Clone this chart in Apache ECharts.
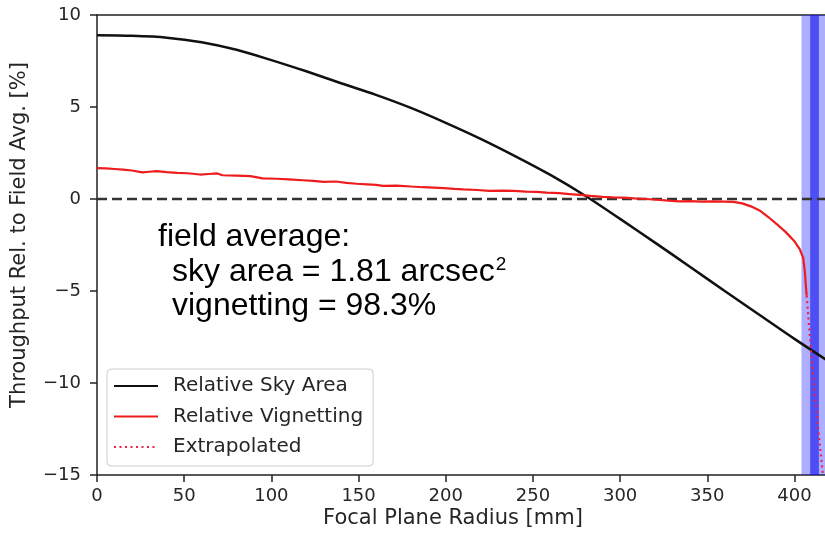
<!DOCTYPE html>
<html>
<head>
<meta charset="utf-8">
<script src="https://cdn.jsdelivr.net/npm/echarts@6/dist/echarts.min.js"></script>
<style>
  html, body { margin: 0; padding: 0; background: #fff; }
  #chart { width: 825px; height: 540px; }
</style>
</head>
<body>
<div id="chart"></div>
<script>
// Relative sky area vs focal plane radius [mm, %]
const skyX = [0, 20, 40, 60, 80, 100, 120, 140, 160, 180, 200, 220, 240, 260, 280, 300, 320, 340, 360, 380, 400, 420];
const skyY = [8.90, 8.87, 8.77, 8.52, 8.11, 7.55, 6.94, 6.29, 5.66, 4.95, 4.14, 3.27, 2.32, 1.31, 0.18, -1.08, -2.37, -3.68, -5.00, -6.30, -7.60, -8.85];

// Measured relative vignetting [mm, %]
const vignX = [0, 5, 10, 15, 20, 26, 30, 34, 40, 46, 52, 59, 64, 69, 72, 80, 88, 95, 103, 110, 118, 124, 130, 137, 143, 149, 155, 160, 164, 172, 180, 187, 193, 199, 205, 210, 218, 225, 232, 239, 246, 252, 258, 265, 271, 277, 283, 290, 296, 302, 308, 315, 321, 328, 334, 340, 347, 353, 360, 365, 370, 375, 380, 385, 390, 395, 400, 403, 405, 406, 406.5, 407];
const vignY = [1.68, 1.66, 1.63, 1.60, 1.55, 1.45, 1.48, 1.51, 1.46, 1.42, 1.40, 1.33, 1.36, 1.39, 1.29, 1.27, 1.24, 1.12, 1.10, 1.07, 1.02, 0.98, 0.93, 0.95, 0.88, 0.83, 0.80, 0.77, 0.71, 0.73, 0.68, 0.64, 0.62, 0.59, 0.55, 0.52, 0.49, 0.44, 0.46, 0.44, 0.40, 0.39, 0.35, 0.32, 0.27, 0.22, 0.17, 0.12, 0.09, 0.07, 0.03, 0.00, -0.04, -0.09, -0.13, -0.12, -0.14, -0.13, -0.14, -0.16, -0.24, -0.40, -0.62, -0.98, -1.38, -1.80, -2.30, -2.72, -3.20, -4.00, -4.70, -5.25];

// Extrapolated vignetting past the last measured radius
const extX = [407, 409.6, 412.8, 416.2, 418];
const extY = [-5.25, -8.4, -11.7, -14.9, -16.8];

// Field-average reference level
const refX = [0, 420];
const refY = [0, 0];

// Shaded radius bands [mm]
const bandOuter = [404, 420];
const bandInner = [409, 414];

// Axis ranges and ticks
const xRange = [0, 417.5];
const yRange = [-15, 10];
const xStep = 50;
const yStep = 5;

const zip = (xs, ys) => xs.map((x, i) => [x, ys[i]]);
const ink = '#262626';
const tickFont = 'DejaVu Sans';
const noteFont = '32px "Liberation Sans", Arial, sans-serif';

const chart = echarts.init(document.getElementById('chart'), null, { renderer: 'canvas' });

chart.setOption({
  animation: false,
  backgroundColor: '#fff',
  grid: { left: 97, top: 15, right: 0, bottom: 65, containLabel: false },
  xAxis: [
    {
      type: 'value', min: xRange[0], max: xRange[1], interval: xStep,
      axisLine: { show: true, onZero: false, lineStyle: { color: '#222', width: 1.5 } },
      axisTick: { show: true, length: 7, lineStyle: { color: '#222', width: 1.5 } },
      axisLabel: { showMaxLabel: false, color: ink, fontFamily: tickFont, fontSize: 18, margin: 12 },
      splitLine: { show: false }
    },
    {
      type: 'value', position: 'top', min: xRange[0], max: xRange[1],
      axisLine: { show: true, onZero: false, lineStyle: { color: '#222', width: 1.5 } },
      axisTick: { show: false }, axisLabel: { show: false }, splitLine: { show: false }
    }
  ],
  yAxis: {
    type: 'value', min: yRange[0], max: yRange[1], interval: yStep,
    axisLine: { show: true, onZero: false, lineStyle: { color: '#222', width: 1.5 } },
    axisTick: { show: true, length: 7, lineStyle: { color: '#222', width: 1.5 } },
    axisLabel: {
      color: ink, fontFamily: tickFont, fontSize: 18, margin: 16,
      formatter: v => (v < 0 ? '\u2212' + Math.abs(v) : String(v))
    },
    splitLine: { show: false }
  },
  legend: {
    orient: 'vertical', left: 107, top: 369,
    data: ['Relative Sky Area', 'Relative Vignetting', 'Extrapolated'],
    itemWidth: 44, itemHeight: 14, itemGap: 10.5,
    padding: [7, 10, 9, 6],
    backgroundColor: 'rgba(255,255,255,0.85)',
    borderColor: '#cccccc', borderWidth: 1, borderRadius: 4,
    itemStyle: { opacity: 0, borderWidth: 0 },
    textStyle: { color: ink, fontFamily: tickFont, fontSize: 20, lineHeight: 18, padding: [0, 0, 0, 10] }
  },
  series: [
    {
      // vertical shaded bands
      type: 'line', data: [], silent: true, z: 1,
      markArea: {
        silent: true,
        data: [
          [{ xAxis: bandOuter[0], itemStyle: { color: 'rgba(30,30,255,0.36)' } }, { xAxis: bandOuter[1] }],
          [{ xAxis: bandInner[0], itemStyle: { color: 'rgba(20,20,240,0.62)' } }, { xAxis: bandInner[1] }]
        ]
      }
    },
    {
      name: 'Field Average', type: 'line', data: zip(refX, refY), z: 3,
      symbol: 'none', lineStyle: { color: '#333', width: 2.6, type: [10, 5] }
    },
    {
      name: 'Relative Sky Area', type: 'line', data: zip(skyX, skyY), z: 4,
      smooth: 0.3, symbol: 'none', color: '#111',
      lineStyle: { color: '#111', width: 2.5 }
    },
    {
      name: 'Relative Vignetting', type: 'line', data: zip(vignX, vignY), z: 5,
      symbol: 'none', color: '#ee1c1c',
      lineStyle: { color: '#ee1c1c', width: 2.2 }
    },
    {
      name: 'Extrapolated', type: 'line', data: zip(extX, extY), z: 5,
      symbol: 'none', color: '#ee2244',
      lineStyle: { color: '#ee2244', width: 2.2, type: [2, 3.5] }
    }
  ],
  graphic: [
    {
      type: 'text', left: 158, top: 221, silent: true,
      style: { text: 'field average:', font: noteFont, fill: '#000' }
    },
    {
      type: 'text', left: 172, top: 255, silent: true,
      style: {
        text: 'sky area = 1.81 arcsec{sup|2}',
        font: noteFont, fill: '#000',
        rich: { sup: { fontSize: 19, fontFamily: 'Liberation Sans', verticalAlign: 'top', padding: [0, 0, 16, 1], fill: '#000' } }
      }
    },
    {
      type: 'text', left: 172, top: 290, silent: true,
      style: { text: 'vignetting = 98.3%', font: noteFont, fill: '#000' }
    },
    {
      type: 'text', x: 20, y: 235, rotation: Math.PI / 2, silent: true,
      style: {
        text: 'Throughput Rel. to Field Avg. [%]', font: '21px "DejaVu Sans"', fill: ink,
        align: 'center', verticalAlign: 'middle'
      }
    },
    {
      type: 'text', x: 453, y: 519, silent: true,
      style: {
        text: 'Focal Plane Radius [mm]', font: '21px "DejaVu Sans"', fill: ink,
        align: 'center', verticalAlign: 'middle'
      }
    }
  ]
});
</script>
</body>
</html>
